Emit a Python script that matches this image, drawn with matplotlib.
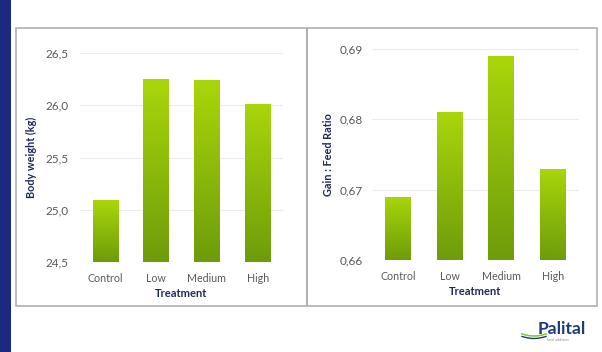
import numpy as np
import matplotlib.pyplot as plt
from matplotlib.patches import Rectangle
from matplotlib.colors import LinearSegmentedColormap

# data
treatments = ["Control", "Low", "Medium", "High"]
body_weight = [25.09, 26.25, 26.24, 26.01]
gain_feed = [0.669, 0.681, 0.689, 0.673]

bw_ticks = [24.5, 25.0, 25.5, 26.0, 26.5]
gf_ticks = [0.66, 0.67, 0.68, 0.69]

navy = "#1f2a5c"
tick_grey = "#595959"

plt.rcParams["font.family"] = ["Lato", "DejaVu Sans"]

fig = plt.figure(figsize=(6.02, 3.52), dpi=100)
fig.patch.set_facecolor("white")

# navy strip on the left and the panel frames
fig.add_artist(Rectangle((0, 0), 10.5 / 602, 1, transform=fig.transFigure,
                         facecolor="#1b2a80", edgecolor="none"))
for x0, x1 in [(16, 307), (307, 597)]:
    fig.add_artist(Rectangle((x0 / 602, (352 - 306) / 352), (x1 - x0) / 602,
                             (306 - 27.5) / 352, transform=fig.transFigure,
                             facecolor="none", edgecolor="#b0b0b0", lw=1.2))

# vertical green gradient
grad = np.linspace(1, 0, 256).reshape(-1, 1)
cmap = LinearSegmentedColormap.from_list("g", ["#6e9c0a", "#a9d60a"])


def gradient_bars(ax, vals, base):
    bars = ax.bar(range(len(vals)), [v - base for v in vals], bottom=base,
                  width=0.5, color="none", edgecolor="none", zorder=2)
    for b in bars:
        x, y = b.get_x(), b.get_y()
        im = ax.imshow(grad, cmap=cmap, aspect="auto", zorder=2,
                       extent=[x, x + b.get_width(), y, y + b.get_height()],
                       origin="upper", vmin=0, vmax=1)
        im.set_clip_path(b)
    ax.set_xlim(-0.5, len(vals) - 0.5)


def style(ax, ticks, fmt, ylabel, ypad, lpad):
    ax.set_ylim(ticks[0], ticks[-1])
    ax.set_yticks(ticks)
    ax.set_yticklabels([fmt.format(t).replace(".", ",") for t in ticks])
    ax.set_xticks(range(len(treatments)))
    ax.set_xticklabels(treatments)
    ax.tick_params(axis="x", length=0, labelsize=7.7, colors=tick_grey, pad=8)
    ax.tick_params(axis="y", length=0, labelsize=8.5, colors=tick_grey, pad=ypad)
    ax.yaxis.grid(True, color="#ececec", lw=0.8, zorder=0)
    ax.set_axisbelow(True)
    for s in ax.spines.values():
        s.set_visible(False)
    ax.set_xlabel("Treatment", fontsize=8, fontweight="bold", color=navy,
                  labelpad=3)
    ax.set_ylabel(ylabel, fontsize=7.8, fontweight="bold", color=navy,
                  labelpad=lpad)


ax1 = fig.add_axes([80 / 602, 90 / 352, 203 / 602, 209 / 352])
gradient_bars(ax1, body_weight, bw_ticks[0])
style(ax1, bw_ticks, "{:.1f}", "Body weight (kg)", 8.5, 6)

ax2 = fig.add_axes([372 / 602, 92 / 352, 207 / 602, 211 / 352])
gradient_bars(ax2, gain_feed, gf_ticks[0])
style(ax2, gf_ticks, "{:.2f}", "Gain : Feed Ratio", 6.5, 4)

# logo text
fig.text(538 / 602, (352 - 329) / 352, "Palital", fontsize=12.5,
         fontweight="bold", color="#1f3a78", ha="left", va="center")
fig.text(547 / 602, (352 - 340) / 352, "feed additives", fontsize=2.5,
         color="#8a8a8a", ha="left", va="center")
wx = np.linspace(522, 546, 30)
fig.add_artist(plt.Line2D(wx / 602, (352 - (334 + 2 * np.sin((wx - 522) / 24 * np.pi))) / 352,
                          transform=fig.transFigure, color="#8cc63f", lw=1.2))
fig.add_artist(plt.Line2D(wx / 602, (352 - (336.5 + 2 * np.sin((wx - 522) / 24 * np.pi))) / 352,
                          transform=fig.transFigure, color="#1f3a78", lw=1.0))

fig.savefig("out.png", dpi=100, facecolor="white")
